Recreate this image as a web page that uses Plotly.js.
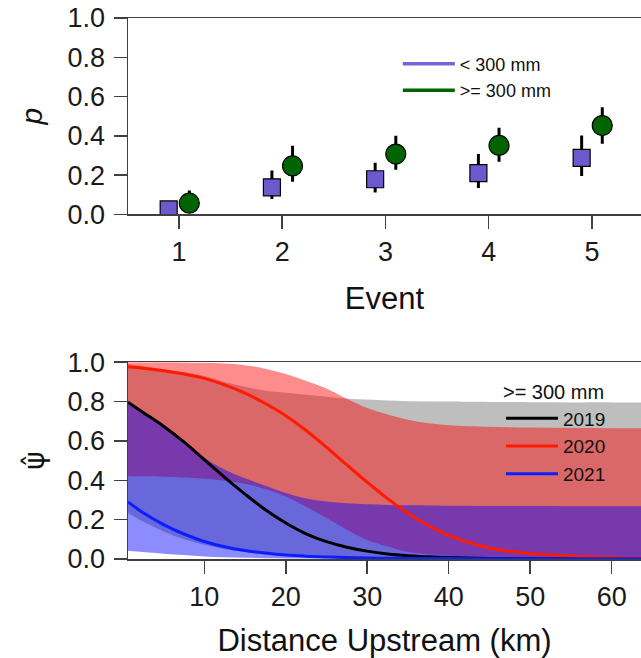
<!DOCTYPE html>
<html>
<head>
<meta charset="utf-8">
<script src="https://cdn.plot.ly/plotly-3.0.1.min.js"></script>
<style>html,body{margin:0;padding:0;background:#fff;}#chart{width:641px;height:658px;}</style>
</head>
<body>
<div id="chart"></div>
<script>
// ---------- Top panel data ----------
var events = [1, 2, 3, 4, 5];
var pSmall = [0.025, 0.138, 0.179, 0.210, 0.288];
var pSmallLo = [0.0, 0.078, 0.111, 0.134, 0.196];
var pSmallHi = [0.05, 0.223, 0.263, 0.307, 0.402];
var pLarge = [0.057, 0.247, 0.307, 0.351, 0.452];
var pLargeLo = [0.02, 0.166, 0.227, 0.268, 0.360];
var pLargeHi = [0.121, 0.350, 0.400, 0.441, 0.545];
var offsetSmall = -0.1, offsetLarge = 0.1;

// ---------- Bottom panel data ----------
var dist = [0.64, 2.5, 5, 7.5, 10, 12.5, 15, 17.5, 20, 22.5, 25, 27.5, 30, 32.5, 35, 37.5, 40, 45, 50, 55, 60, 65];
var psi2019 = [0.797, 0.745, 0.675, 0.595, 0.505, 0.415, 0.330, 0.250, 0.183, 0.128, 0.088, 0.060, 0.040, 0.026, 0.017, 0.011, 0.007, 0.003, 0.001, 0.0, 0.0, 0.0];
var psi2020 = [0.977, 0.970, 0.957, 0.940, 0.918, 0.885, 0.843, 0.790, 0.728, 0.653, 0.568, 0.478, 0.390, 0.307, 0.233, 0.170, 0.120, 0.056, 0.028, 0.015, 0.008, 0.005];
var psi2021 = [0.290, 0.235, 0.175, 0.127, 0.089, 0.062, 0.043, 0.030, 0.020, 0.014, 0.010, 0.007, 0.005, 0.004, 0.003, 0.002, 0.002, 0.001, 0.001, 0.001, 0.001, 0.001];
var lo2019 = [0.234, 0.190, 0.140, 0.100, 0.072, 0.050, 0.035, 0.024, 0.017, 0.012, 0.008, 0.006, 0.004, 0.003, 0.002, 0.001, 0.001, 0.0, 0.0, 0.0, 0.0, 0.0];
var hi2019 = [0.990, 0.980, 0.965, 0.950, 0.930, 0.900, 0.875, 0.855, 0.845, 0.835, 0.825, 0.815, 0.810, 0.805, 0.802, 0.801, 0.800, 0.798, 0.797, 0.796, 0.796, 0.795];
var lo2020 = [0.422, 0.420, 0.418, 0.414, 0.408, 0.398, 0.382, 0.355, 0.318, 0.265, 0.208, 0.149, 0.097, 0.063, 0.035, 0.024, 0.017, 0.008, 0.004, 0.002, 0.001, 0.001];
var hi2020 = [1.0, 1.0, 1.0, 0.999, 0.997, 0.993, 0.985, 0.967, 0.940, 0.905, 0.867, 0.815, 0.768, 0.735, 0.708, 0.690, 0.680, 0.672, 0.668, 0.666, 0.665, 0.665];
var lo2021 = [0.042, 0.035, 0.027, 0.020, 0.013, 0.009, 0.006, 0.004, 0.003, 0.002, 0.002, 0.001, 0.001, 0.0, 0.0, 0.0, 0.0, 0.0, 0.0, 0.0, 0.0, 0.0];
var hi2021 = [0.800, 0.750, 0.680, 0.600, 0.515, 0.455, 0.410, 0.372, 0.335, 0.308, 0.292, 0.283, 0.278, 0.275, 0.273, 0.272, 0.271, 0.270, 0.269, 0.268, 0.268, 0.268];

var topLegendLabels = ['< 300 mm', '>= 300 mm'];
var yearLabels = ['2019', '2020', '2021'];

function diff(a, b) { return a.map(function (v, i) { return v - b[i]; }); }
function shift(a, d) { return a.map(function (v) { return v + d; }); }

var FONT = 'Liberation Sans, Arial, sans-serif';
var colSmall = '#6A5ACD', colLarge = '#006400';

var traces = [];
traces.push({
  x: shift(events, offsetSmall), y: pSmall, xaxis: 'x', yaxis: 'y', type: 'scatter', mode: 'markers',
  marker: { symbol: 'square', size: 17, color: colSmall, line: { color: '#000', width: 1.2 } },
  error_y: { type: 'data', symmetric: false, array: diff(pSmallHi, pSmall), arrayminus: diff(pSmall, pSmallLo), color: '#000', thickness: 3, width: 0 },
  showlegend: false, hoverinfo: 'skip'
});
traces.push({
  x: shift(events, offsetLarge), y: pLarge, xaxis: 'x', yaxis: 'y', type: 'scatter', mode: 'markers',
  marker: { symbol: 'circle', size: 20, color: colLarge, line: { color: '#000', width: 1.2 } },
  error_y: { type: 'data', symmetric: false, array: diff(pLargeHi, pLarge), arrayminus: diff(pLarge, pLargeLo), color: '#000', thickness: 3, width: 0 },
  showlegend: false, hoverinfo: 'skip'
});
traces.push({ x: [null], y: [null], xaxis: 'x', yaxis: 'y', mode: 'lines', name: topLegendLabels[0], line: { color: '#7565DD', width: 3.5 }, legend: 'legend' });
traces.push({ x: [null], y: [null], xaxis: 'x', yaxis: 'y', mode: 'lines', name: topLegendLabels[1], line: { color: colLarge, width: 3.5 }, legend: 'legend' });

function band(lo, hi, fill) {
  traces.push({ x: dist, y: lo, xaxis: 'x2', yaxis: 'y2', mode: 'lines', line: { width: 0, shape: 'spline' }, showlegend: false, hoverinfo: 'skip' });
  traces.push({ x: dist, y: hi, xaxis: 'x2', yaxis: 'y2', mode: 'lines', line: { width: 0, shape: 'spline' }, fill: 'tonexty', fillcolor: fill, showlegend: false, hoverinfo: 'skip' });
}
band(lo2019, hi2019, 'rgb(190,190,190)');
band(lo2020, hi2020, 'rgba(255,0,0,0.45)');
band(lo2021, hi2021, 'rgba(0,0,255,0.45)');

traces.push({ x: dist, y: psi2019, xaxis: 'x2', yaxis: 'y2', mode: 'lines', name: yearLabels[0], line: { color: '#000', width: 3, shape: 'spline' }, legend: 'legend2' });
traces.push({ x: dist, y: psi2020, xaxis: 'x2', yaxis: 'y2', mode: 'lines', name: yearLabels[1], line: { color: '#FF1A00', width: 3, shape: 'spline' }, legend: 'legend2' });
traces.push({ x: dist, y: psi2021, xaxis: 'x2', yaxis: 'y2', mode: 'lines', name: yearLabels[2], line: { color: '#0A1EFF', width: 3, shape: 'spline' }, legend: 'legend2' });

var axisCommon = {
  showgrid: false, zeroline: false, showline: true, linecolor: '#404040', linewidth: 1.5,
  ticks: 'outside', ticklen: 13, tickwidth: 1.5, tickcolor: '#404040',
  tickfont: { family: FONT, size: 27, color: '#1a1a1a' }
};
function ax(extra) { var o = {}; for (var k in axisCommon) o[k] = axisCommon[k]; for (var k2 in extra) o[k2] = extra[k2]; return o; }

var layout = {
  width: 641, height: 658,
  margin: { l: 128, r: 0, t: 18, b: 99 },
  paper_bgcolor: '#fff', plot_bgcolor: '#fff',
  hovermode: false,
  font: { family: FONT, color: '#111' },
  xaxis: ax({ domain: [0, 1], range: [0.506, 5.475], tickvals: events, mirror: true, anchor: 'y',
    title: { text: 'Event', font: { family: FONT, size: 31, color: '#111' }, standoff: 21 } }),
  yaxis: ax({ domain: [0.637, 1], range: [0, 1], tickvals: [0, 0.2, 0.4, 0.6, 0.8, 1.0], tickformat: '.1f', anchor: 'x', ticklabelstandoff: 3,
    title: { text: '<i>p</i>', font: { family: FONT, size: 30, color: '#111' }, standoff: 16 } }),
  xaxis2: ax({ domain: [0, 1], range: [0.64, 63.6], tickvals: [10, 20, 30, 40, 50, 60], mirror: true, anchor: 'y2',
    title: { text: 'Distance Upstream (km)', font: { family: FONT, size: 31, color: '#111' }, standoff: 23 } }),
  yaxis2: ax({ domain: [0, 0.3637], range: [0, 1], tickvals: [0, 0.2, 0.4, 0.6, 0.8, 1.0], tickformat: '.1f', anchor: 'x2', ticklabelstandoff: 3,
    title: { text: 'ψ\u0302', font: { family: 'DejaVu Sans, sans-serif', size: 28, color: '#111' }, standoff: 14 } }),
  legend: { x: 0.526, y: 0.949, xanchor: 'left', yanchor: 'top', bgcolor: 'rgba(0,0,0,0)', borderwidth: 0,
    traceorder: 'normal', itemwidth: 52, font: { family: FONT, size: 18, color: '#111' }, tracegroupgap: 0 },
  legend2: { x: 0.727, y: 0.343, xanchor: 'left', yanchor: 'top', bgcolor: 'rgba(0,0,0,0)', borderwidth: 0,
    traceorder: 'normal', itemwidth: 52, font: { family: FONT, size: 19, color: '#111' },
    title: { text: '>= 300 mm', font: { family: FONT, size: 20, color: '#111' } } }
};

Plotly.newPlot('chart', traces, layout, { staticPlot: true, displayModeBar: false });
</script>
</body>
</html>
